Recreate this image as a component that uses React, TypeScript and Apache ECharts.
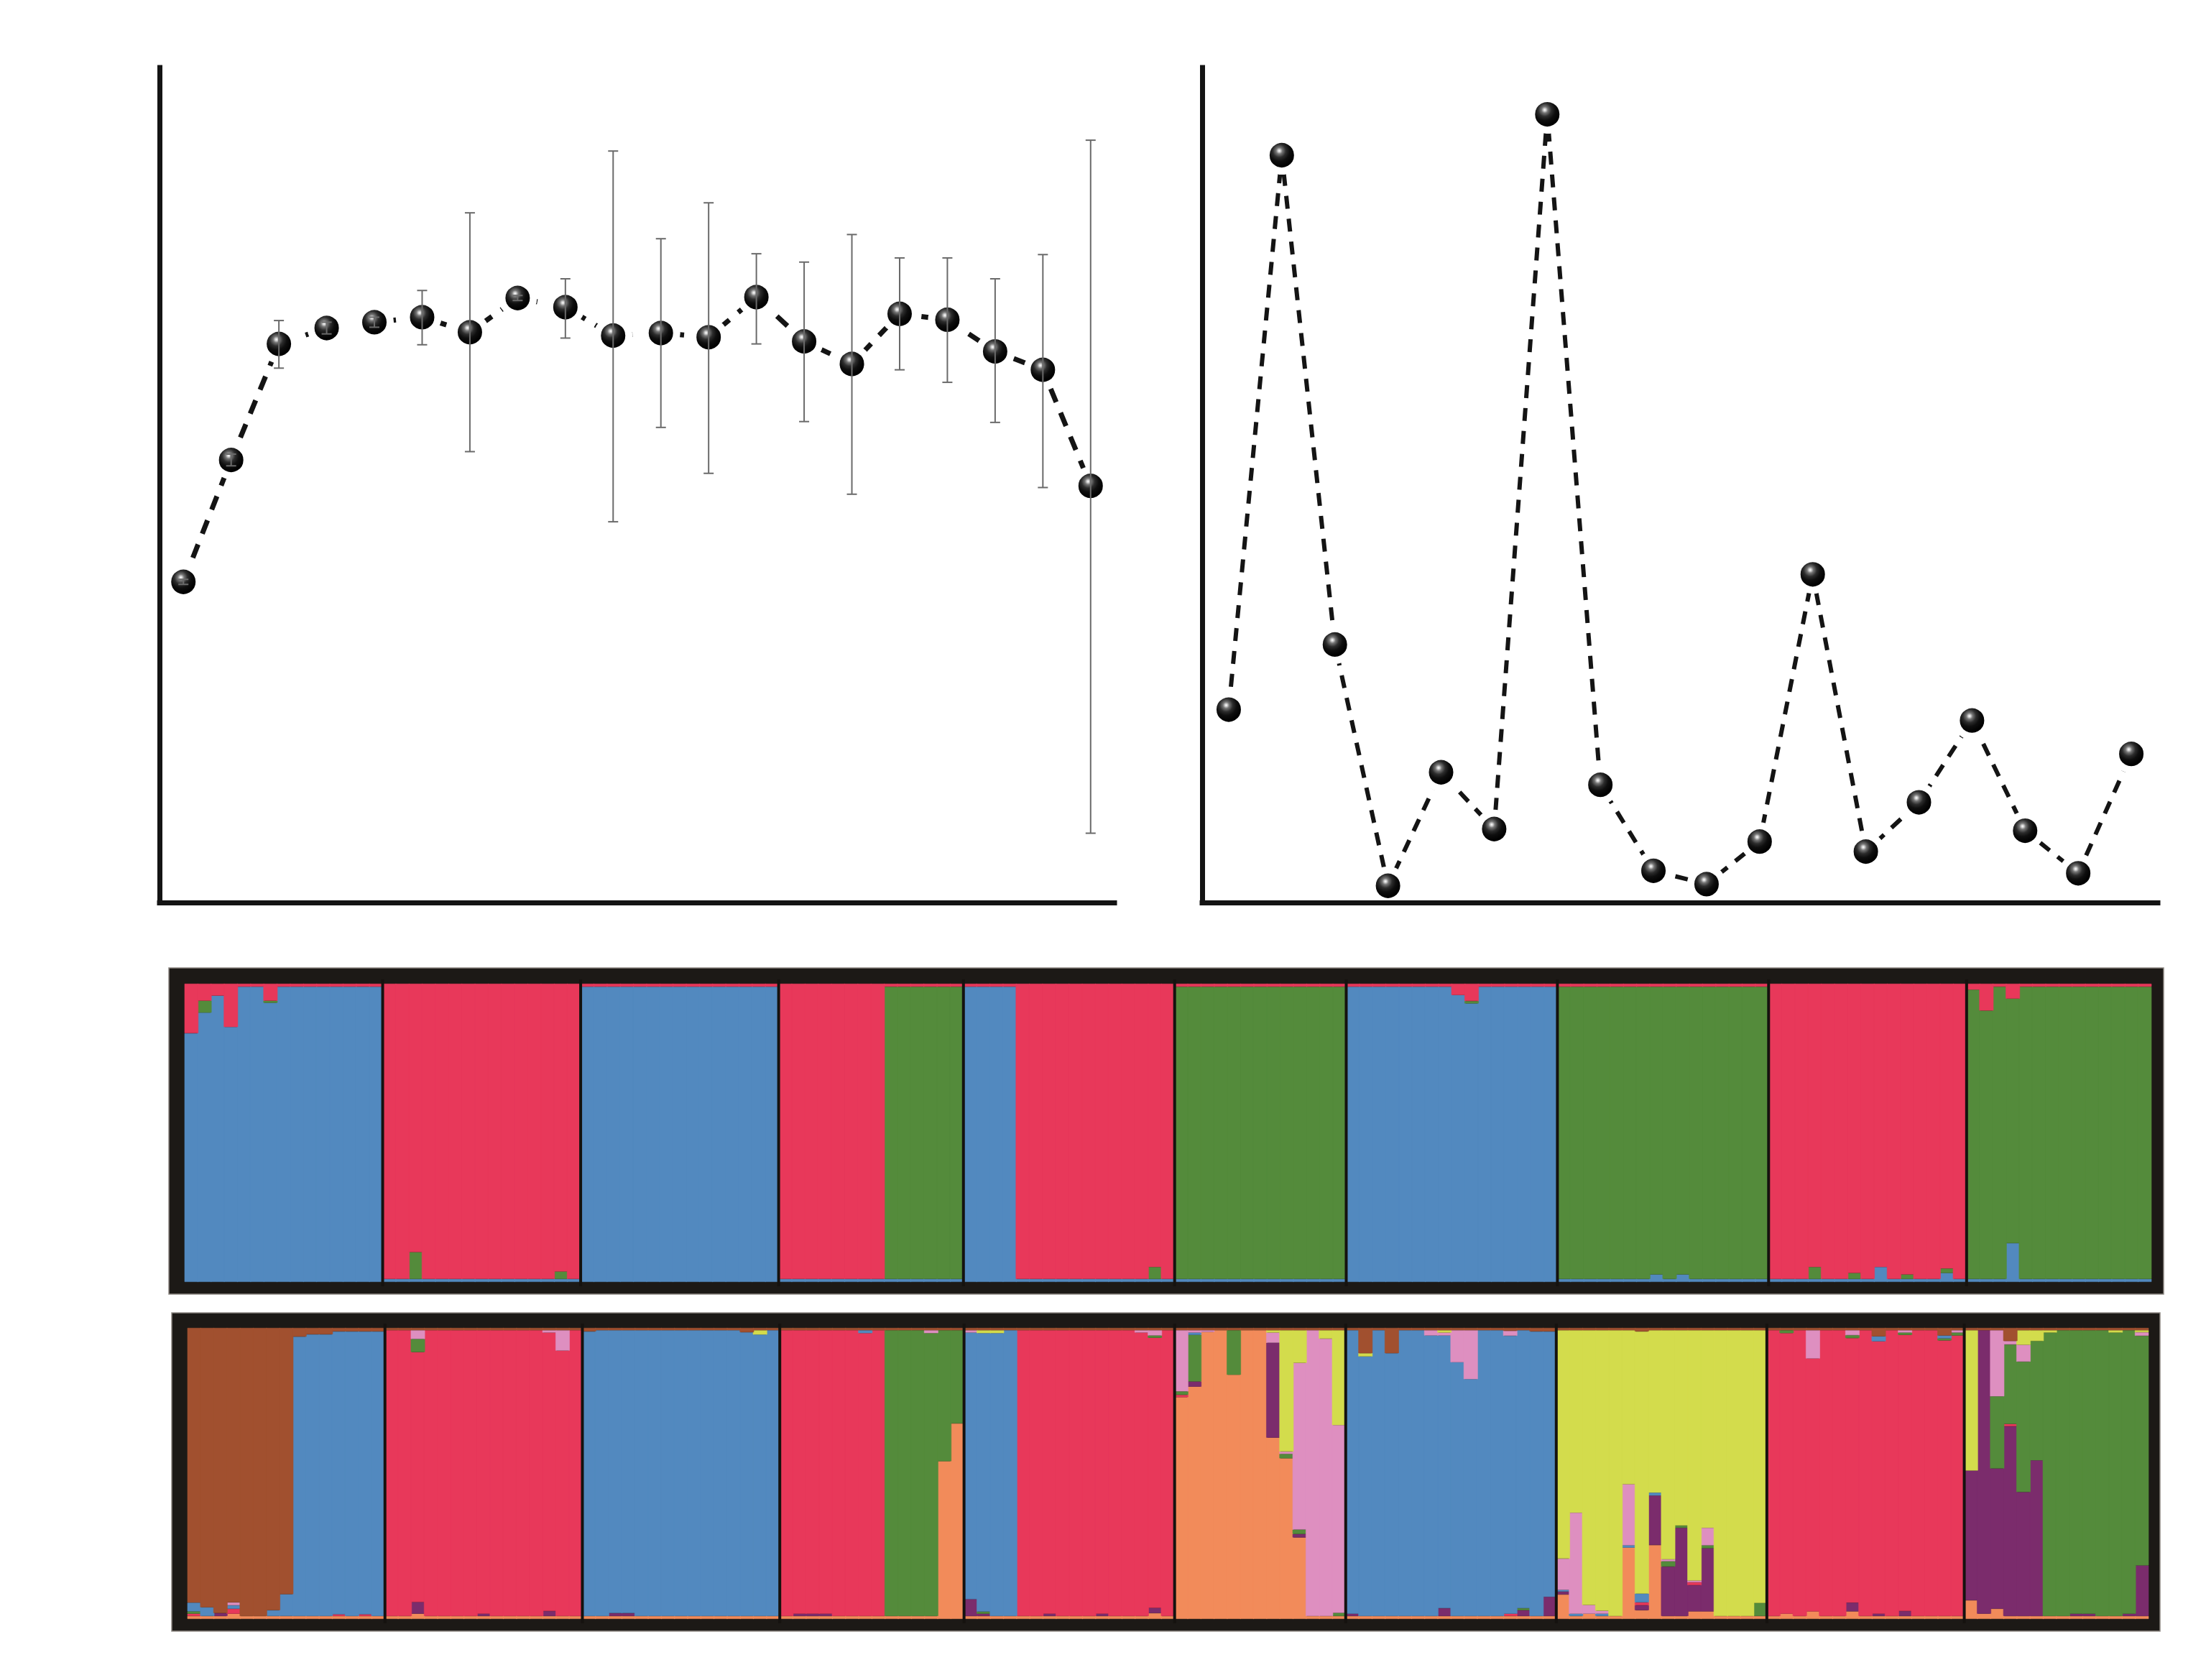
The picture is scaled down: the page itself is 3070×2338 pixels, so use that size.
import React, { useEffect, useRef } from "react";
import * as echarts from "echarts";

// ---------- Top-left: mean L(K) ± SD (arbitrary units, no axis labels) ----------
const K_LABELS = ["1","2","3","4","5","6","7","8","9","10","11","12","13","14","15","16","17","18","19","20"];
const LK_MEAN = [38.4, 53.0, 66.9, 68.8, 69.5, 70.1, 68.3, 72.4, 71.3, 67.9, 68.2, 67.7, 72.5, 67.2, 64.5, 70.5, 69.8, 66.0, 63.8, 49.9];
const LK_LOW  = [38.1, 52.3, 64.0, 68.1, 68.9, 66.8, 54.0, 72.1, 67.6, 45.6, 56.9, 51.4, 66.9, 57.6, 48.9, 63.8, 62.3, 57.5, 49.7, 8.3];
const LK_HIGH = [38.7, 53.7, 69.7, 69.5, 70.1, 73.3, 82.6, 72.7, 74.7, 90.0, 79.5, 83.8, 77.7, 76.7, 80.0, 77.2, 77.2, 74.7, 77.6, 91.3];

// ---------- Top-right: delta K ----------
const DK_LABELS = ["2","3","4","5","6","7","8","9","10","11","12","13","14","15","16","17","18","19"];
const DELTA_K = [23.1, 89.5, 30.9, 2.0, 15.6, 8.8, 94.4, 14.1, 3.8, 2.2, 7.3, 39.3, 6.1, 12.0, 21.8, 8.6, 3.5, 17.8];

// ---------- STRUCTURE bar plots ----------
const GROUP_SIZES = [15, 15, 15, 14, 16, 13, 16, 16, 15, 14];

// K=3 (bottom -> top order)
const K3_CODES = ["b", "g", "r"];
const K3_COLORS = ["#5289bf", "#548b3b", "#e8385a"];
const K3_BASE: Record<string, number> = { b: 0.01, r: 0.01 };
const K3_MAIN = [
  "bbbbbbbbbbbbbbb",
  "rrrrrrrrrrrrrrr",
  "bbbbbbbbbbbbbbb",
  "rrrrrrrrgggggg",
  "bbbbrrrrrrrrrrrr",
  "ggggggggggggg",
  "bbbbbbbbbbbbbbbb",
  "gggggggggggggggg",
  "rrrrrrrrrrrrrrr",
  "gggggggggggggg",
];
const K3_MIX: [number, number, string, number][] = [
  [0,0,"r",0.166],[0,1,"r",0.057],[0,1,"g",0.04],[0,2,"r",0.04],[0,3,"r",0.145],[0,6,"r",0.057],[0,6,"g",0.007],
  [1,2,"g",0.09],[1,13,"g",0.025],
  [4,14,"g",0.04],
  [6,8,"r",0.038],[6,9,"r",0.058],[6,9,"g",0.008],
  [7,7,"b",0.025],[7,9,"b",0.025],
  [8,3,"g",0.04],[8,6,"g",0.02],[8,8,"b",0.05],[8,10,"g",0.015],[8,13,"b",0.03],[8,13,"g",0.015],
  [9,0,"r",0.02],[9,1,"r",0.09],[9,3,"r",0.05],[9,3,"b",0.13],
];

// K=8 (bottom -> top order): orange, purple, red, green, blue, pink, yellow, brown
const K8_CODES = ["o", "p", "r", "g", "b", "k", "y", "n"];
const K8_COLORS = ["#f28b5a", "#7b2c6c", "#e8385a", "#548b3b", "#5289bf", "#de8fc0", "#d3dc4c", "#a1502f"];
const K8_BASE: Record<string, number> = { o: 0.01, n: 0.008 };
const K8_MAIN = [
  "nnnnnnnnbbbbbbb",
  "rrrrrrrrrrrrrrr",
  "bbbbbbbbbbbbbbb",
  "rrrrrrrrggggoo",
  "bbbbrrrrrrrrrrrr",
  "oooooooookkkk",
  "bbbbbbbbbbbbbbbb",
  "yyyyyyyyyyyyyyyy",
  "rrrrrrrrrrrrrrr",
  "ypppgpgggggggg",
];
const K8_MIX: [number, number, string, number][] = [
  [0,0,"o",0.01],[0,0,"r",0.008],[0,0,"g",0.008],[0,0,"b",0.03],
  [0,1,"b",0.03],[0,2,"p",0.01],
  [0,3,"o",0.018],[0,3,"r",0.017],[0,3,"b",0.012],[0,3,"k",0.01],
  [0,6,"b",0.02],[0,7,"b",0.075],
  [0,8,"n",0.03],[0,9,"n",0.022],[0,10,"n",0.022],[0,11,"n",0.012],[0,12,"n",0.012],[0,13,"n",0.012],[0,14,"n",0.012],
  [0,11,"r",0.006],[0,13,"r",0.006],
  [1,2,"k",0.03],[1,2,"g",0.045],[1,2,"p",0.04],[1,2,"o",0.018],
  [1,7,"p",0.008],[1,12,"k",0.008],[1,12,"p",0.017],[1,13,"k",0.07],
  [2,0,"n",0.012],[2,2,"p",0.01],[2,3,"p",0.01],[2,12,"n",0.015],[2,13,"y",0.015],
  [3,1,"p",0.008],[3,2,"p",0.008],[3,3,"p",0.008],[3,6,"b",0.01],[3,11,"k",0.01],
  [3,12,"g",0.45],[3,13,"g",0.32],
  [4,0,"k",0.008],[4,0,"p",0.058],
  [4,1,"n",0.008],[4,1,"y",0.01],[4,1,"p",0.008],[4,1,"g",0.007],
  [4,2,"y",0.01],[4,6,"p",0.008],[4,10,"p",0.008],[4,13,"k",0.008],
  [4,14,"k",0.018],[4,14,"g",0.008],[4,14,"p",0.018],[4,14,"o",0.02],
  [5,0,"k",0.21],[5,0,"g",0.012],[5,0,"r",0.008],
  [5,1,"k",0.008],[5,1,"b",0.008],[5,1,"g",0.16],[5,1,"p",0.018],
  [5,2,"k",0.006],[5,4,"g",0.153],
  [5,7,"y",0.008],[5,7,"k",0.035],[5,7,"p",0.326],
  [5,8,"y",0.417],[5,8,"k",0.008],[5,8,"g",0.015],
  [5,9,"y",0.112],[5,9,"g",0.015],[5,9,"p",0.012],[5,9,"o",0.28],
  [5,11,"y",0.029],[5,12,"y",0.326],[5,12,"g",0.011],
  [6,0,"p",0.008],[6,1,"n",0.087],[6,1,"y",0.011],[6,3,"n",0.087],[6,6,"k",0.018],
  [6,7,"y",0.008],[6,7,"k",0.01],[6,7,"p",0.027],
  [6,8,"k",0.11],[6,9,"k",0.168],
  [6,12,"n",0.01],[6,12,"k",0.017],[6,12,"r",0.008],
  [6,13,"p",0.02],[6,13,"g",0.007],[6,14,"n",0.012],[6,15,"n",0.012],[6,15,"p",0.066],
  [7,0,"k",0.107],[7,0,"b",0.006],[7,0,"p",0.01],[7,0,"o",0.084],
  [7,1,"k",0.347],[7,1,"b",0.008],
  [7,2,"k",0.03],[7,2,"o",0.018],
  [7,3,"k",0.01],[7,3,"b",0.008],
  [7,5,"k",0.21],[7,5,"b",0.008],[7,5,"o",0.245],
  [7,6,"n",0.012],[7,6,"b",0.03],[7,6,"r",0.01],[7,6,"p",0.017],[7,6,"o",0.03],
  [7,7,"b",0.01],[7,7,"p",0.17],[7,7,"o",0.254],
  [7,8,"k",0.007],[7,8,"g",0.018],[7,8,"p",0.17],
  [7,9,"g",0.008],[7,9,"p",0.303],
  [7,10,"k",0.006],[7,10,"r",0.01],[7,10,"p",0.09],[7,10,"o",0.026],
  [7,11,"k",0.06],[7,11,"g",0.01],[7,11,"p",0.217],[7,11,"o",0.026],
  [7,15,"g",0.045],
  [8,1,"g",0.01],[8,1,"o",0.018],[8,3,"k",0.097],[8,3,"o",0.026],
  [8,6,"k",0.017],[8,6,"g",0.01],[8,6,"p",0.03],[8,6,"o",0.026],
  [8,8,"n",0.029],[8,8,"b",0.017],[8,8,"p",0.008],
  [8,10,"k",0.008],[8,10,"g",0.008],[8,10,"p",0.017],
  [8,13,"n",0.026],[8,13,"b",0.01],[8,13,"g",0.007],[8,14,"k",0.008],[8,14,"g",0.01],
  [9,0,"p",0.446],[9,0,"o",0.064],
  [9,1,"o",0.018],
  [9,2,"k",0.227],[9,2,"g",0.248],[9,2,"o",0.035],
  [9,3,"n",0.045],[9,3,"k",0.012],[9,3,"g",0.273],[9,3,"r",0.008],
  [9,4,"y",0.05],[9,4,"k",0.058],[9,4,"p",0.426],
  [9,5,"y",0.037],[9,5,"g",0.41],
  [9,6,"y",0.008],[9,8,"p",0.008],[9,9,"p",0.008],[9,11,"y",0.008],[9,12,"p",0.008],
  [9,13,"y",0.007],[9,13,"k",0.012],[9,13,"p",0.174],
];

function buildMembership(
  mainCodes: string[],
  mix: [number, number, string, number][],
  codes: string[],
  base: Record<string, number>
): (number | string)[][] {
  const rows: Record<string, number>[] = [];
  mainCodes.forEach((str, gi) => {
    for (let j = 0; j < str.length; j++) {
      const main = str[j];
      const q: Record<string, number> = {};
      Object.keys(base).forEach((c) => { if (c !== main) q[c] = base[c]; });
      mix.forEach(([g, i, c, v]) => { if (g === gi && i === j) q[c] = v; });
      let rest = 1;
      Object.keys(q).forEach((c) => { rest -= q[c]; });
      q[main] = rest;
      rows.push(q);
    }
  });
  return codes.map((c) => rows.map((q) => (q[c] && q[c] > 0 ? +q[c].toFixed(4) : "-")));
}

const TOTAL = GROUP_SIZES.reduce((a, b) => a + b, 0);
const IND_IDS = Array.from({ length: TOTAL }, (_, i) => "ind" + (i + 1));
const BOUNDARIES: number[] = [];
GROUP_SIZES.slice(0, -1).reduce((acc, n) => { const s = acc + n; BOUNDARIES.push(s); return s; }, 0);

function sphere() {
  return new echarts.graphic.RadialGradient(0.42, 0.36, 0.5, [
    { offset: 0, color: "#ffffff" },
    { offset: 0.08, color: "#d2d2d2" },
    { offset: 0.2, color: "#767676" },
    { offset: 0.42, color: "#2c2c2c" },
    { offset: 0.66, color: "#0e0e0e" },
    { offset: 1, color: "#000000" },
  ]);
}

function buildOption() {
  const axisLineStyle = { color: "#141414", width: 7, cap: "square" as const };
  const k3 = buildMembership(K3_MAIN, K3_MIX, K3_CODES, K3_BASE);
  const k8 = buildMembership(K8_MAIN, K8_MIX, K8_CODES, K8_BASE);

  const errRender = (params: any, api: any) => {
    const x = api.value(0);
    const lo = api.coord([x, api.value(1)]);
    const hi = api.coord([x, api.value(2)]);
    const cw = 7;
    const st = { stroke: "#6a6a6a", lineWidth: 2 };
    return {
      type: "group",
      children: [
        { type: "line", shape: { x1: lo[0], y1: lo[1], x2: hi[0], y2: hi[1] }, style: st },
        { type: "line", shape: { x1: hi[0] - cw, y1: hi[1], x2: hi[0] + cw, y2: hi[1] }, style: st },
        { type: "line", shape: { x1: lo[0] - cw, y1: lo[1], x2: lo[0] + cw, y2: lo[1] }, style: st },
      ],
    };
  };

  const sepRender = (params: any, api: any) => {
    const x = api.value(0);
    const top = api.coord([x, 1]);
    const bot = api.coord([x, 0]);
    return {
      type: "line",
      shape: { x1: top[0], y1: top[1] - 6, x2: bot[0], y2: bot[1] + 6 },
      style: { stroke: "#15120f", lineWidth: 4 },
    };
  };

  const barSeries = (data: (number | string)[][], colors: string[], axisIdx: number, stack: string) =>
    data.map((vals, ci) => ({
      type: "bar",
      xAxisIndex: axisIdx,
      yAxisIndex: axisIdx,
      stack,
      barWidth: 19.8,
      data: vals,
      itemStyle: { color: colors[ci], borderColor: colors[ci], borderWidth: 0.6 },
      emphasis: { disabled: true },
      z: 2,
    }));

  const symbolStyle = { color: sphere(), borderColor: "#ffffff", borderWidth: 10 };

  return {
    animation: false,
    backgroundColor: "#ffffff",
    grid: [
      { left: 222, top: 94, width: 1329, height: 1162 },
      { left: 1673, top: 94, width: 1330, height: 1162 },
      { left: 257, top: 1369, width: 2737, height: 415 },
      { left: 261, top: 1848, width: 2729, height: 405 },
    ],
    xAxis: [
      { gridIndex: 0, type: "category", data: K_LABELS, boundaryGap: true, axisLine: { show: true, lineStyle: axisLineStyle }, axisTick: { show: false }, axisLabel: { show: false }, splitLine: { show: false }, z: 10 },
      { gridIndex: 1, type: "category", data: DK_LABELS, boundaryGap: true, axisLine: { show: true, lineStyle: axisLineStyle }, axisTick: { show: false }, axisLabel: { show: false }, splitLine: { show: false }, z: 10 },
      { gridIndex: 2, type: "category", data: IND_IDS, show: false },
      { gridIndex: 3, type: "category", data: IND_IDS, show: false },
      { gridIndex: 2, type: "value", min: 0, max: TOTAL, show: false },
      { gridIndex: 3, type: "value", min: 0, max: TOTAL, show: false },
    ],
    yAxis: [
      { gridIndex: 0, type: "value", min: 0, max: 100, axisLine: { show: true, lineStyle: axisLineStyle }, axisTick: { show: false }, axisLabel: { show: false }, splitLine: { show: false }, z: 10 },
      { gridIndex: 1, type: "value", min: 0, max: 100, axisLine: { show: true, lineStyle: axisLineStyle }, axisTick: { show: false }, axisLabel: { show: false }, splitLine: { show: false }, z: 10 },
      { gridIndex: 2, type: "value", min: 0, max: 1, show: false },
      { gridIndex: 3, type: "value", min: 0, max: 1, show: false },
    ],
    graphic: [
      { type: "rect", z: 0, shape: { x: 235, y: 1347, width: 2776, height: 454 }, style: { fill: "#1c1916", stroke: "#8d8882", lineWidth: 1.5 } },
      { type: "rect", z: 0, shape: { x: 239, y: 1827, width: 2767, height: 443 }, style: { fill: "#1c1916", stroke: "#8d8882", lineWidth: 1.5 } },
    ],
    series: [
      {
        type: "line",
        xAxisIndex: 0,
        yAxisIndex: 0,
        data: LK_MEAN,
        symbol: "circle",
        symbolSize: 44,
        showAllSymbol: true,
        itemStyle: symbolStyle,
        lineStyle: { color: "#141414", width: 7, type: [20, 16] },
        emphasis: { disabled: true },
        z: 3,
      },
      {
        type: "custom",
        xAxisIndex: 0,
        yAxisIndex: 0,
        data: LK_MEAN.map((_, i) => [i, LK_LOW[i], LK_HIGH[i]]),
        encode: { x: 0, y: [1, 2] },
        renderItem: errRender,
        z: 5,
      },
      {
        type: "line",
        xAxisIndex: 1,
        yAxisIndex: 1,
        data: DELTA_K,
        symbol: "circle",
        symbolSize: 44,
        showAllSymbol: true,
        itemStyle: { color: sphere(), borderColor: "#ffffff", borderWidth: 10 },
        lineStyle: { color: "#141414", width: 6, type: [18, 14] },
        emphasis: { disabled: true },
        z: 3,
      },
      ...barSeries(k3, K3_COLORS, 2, "k3"),
      ...barSeries(k8, K8_COLORS, 3, "k8"),
      {
        type: "custom",
        xAxisIndex: 4,
        yAxisIndex: 2,
        data: BOUNDARIES.map((b) => [b, 0]),
        encode: { x: 0, y: 1 },
        renderItem: sepRender,
        z: 10,
      },
      {
        type: "custom",
        xAxisIndex: 5,
        yAxisIndex: 3,
        data: BOUNDARIES.map((b) => [b, 0]),
        encode: { x: 0, y: 1 },
        renderItem: sepRender,
        z: 10,
      },
    ],
  };
}

export default function App() {
  const ref = useRef<HTMLDivElement>(null);
  useEffect(() => {
    if (!ref.current) return;
    const chart = echarts.init(ref.current, null, { renderer: "svg" });
    chart.setOption(buildOption() as any);
    return () => chart.dispose();
  }, []);
  return (
    <div
      ref={ref}
      style={{ position: "absolute", left: 0, top: 0, width: 3070, height: 2338, background: "#ffffff" }}
    />
  );
}
